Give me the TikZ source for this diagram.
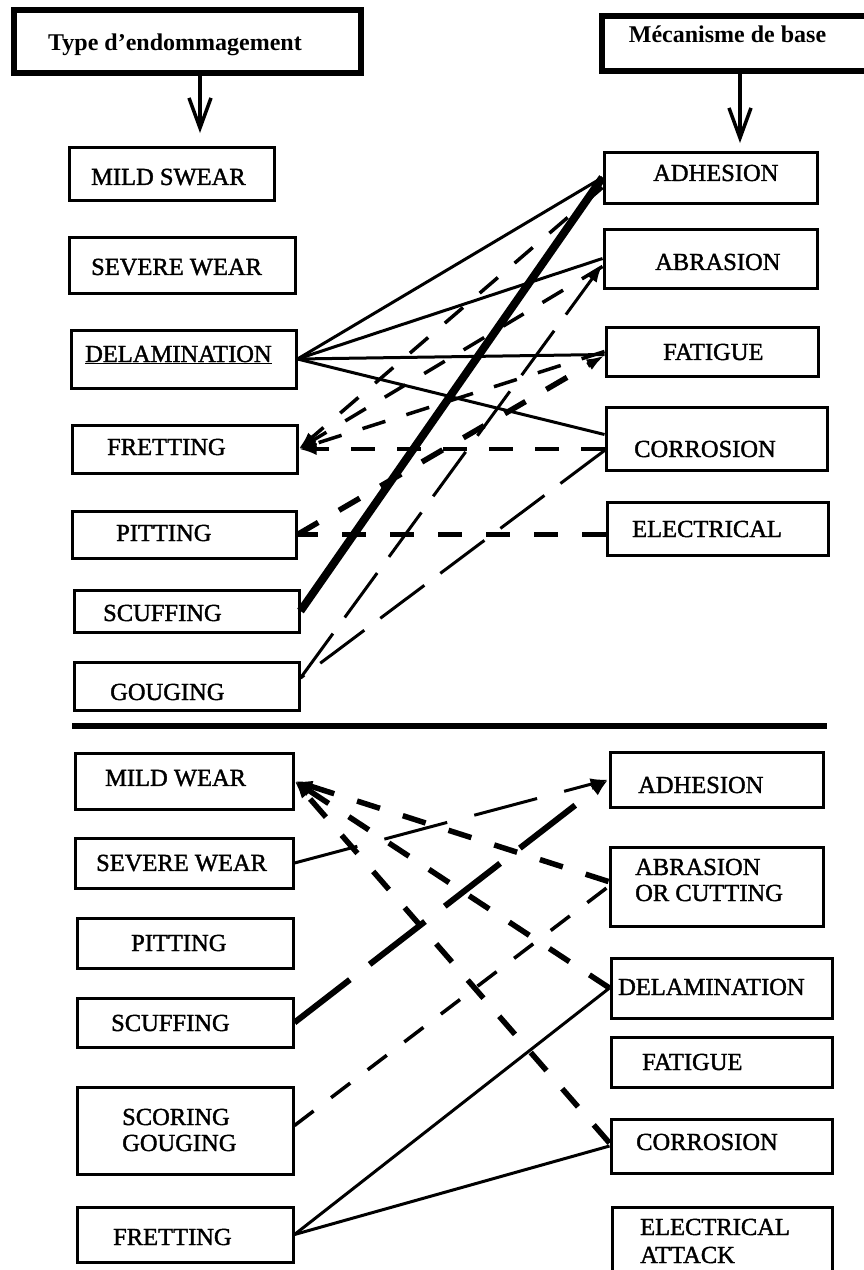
\documentclass[tikz,border=0pt]{standalone}
\usepackage{fontspec}
\setmainfont{Liberation Serif}
\newfontfamily\boxfont{Liberation Serif}[FakeBold=1.5]
\usetikzlibrary{arrows.meta}
\usetikzlibrary{calc}

\tikzset{
  box/.style n args={2}{draw,rectangle,line width=3pt,inner sep=0pt,
              minimum width=#1pt,minimum height=#2pt},
  head/.style n args={2}{draw,rectangle,line width=5.5pt,inner sep=0pt,
              minimum width=#1pt,minimum height=#2pt}
}

\begin{document}
\begin{tikzpicture}[
      x=1pt, y=-1pt,
      >={Latex[length=18pt,width=12pt]},
      txt/.style={font=\boxfont\fontsize{24.5}{26}\selectfont,inner sep=0pt,
                  align=left,anchor=west},
      htxt/.style={font=\fontsize{24}{26}\selectfont\bfseries,inner sep=0pt,
                  anchor=base},
      down/.style={line width=3.5pt,-{Straight Barb[length=30pt,width=22pt]}},
      link/.style={line width=3pt},
      heavylink/.style={line width=8pt},
      dlink/.style={line width=3.5pt,dash pattern=on 24pt off 22pt},
      hdlink/.style={line width=5.5pt,dash pattern=on 24pt off 24pt},
      ldlink/.style={line width=3pt,dash pattern=on 55pt off 20pt},
      hldlink/.style={line width=6pt,dash pattern=on 70pt off 25pt}
    ]
    \useasboundingbox (0,0) rectangle (864,1270);

    % Headers
    \node[head={347}{63}] (typeH) at (187.5,41.5) {};
    \node[htxt] (typeH-t) at (175,50) {Type d'endommagement};
    \node[head={265}{55}] (mecH) at (734.5,43.5) {};
    \node[htxt] (mecH-t) at (727.5,42) {Mécanisme de base};
    \coordinate (typeA) at (200,133);
    \coordinate (mecA) at (740,143);
    \draw[down] (typeH.south -| typeA) -- (typeA);
    \draw[down] (mecH.south -| mecA) -- (mecA);

    % Upper part: damage types
    \node[box={205}{53}] (mildT) at (171.5,173.5) {};
    \node[txt] (mildT-t) at (91,177) {MILD SWEAR};
    \node[box={226}{56}] (severeT) at (182,265) {};
    \node[txt] (severeT-t) at (91,267) {SEVERE WEAR};
    \node[box={225}{58}] (delamT) at (183.5,359) {};
    \node[txt,anchor=base west] (delamT-t) at (85,362) {\underline{DELAMINATION}};
    \node[box={225}{48}] (frettT) at (184.5,449) {};
    \node[txt] (frettT-t) at (107,447) {FRETTING};
    \node[box={224}{47}] (pittT) at (184,534.5) {};
    \node[txt] (pittT-t) at (116,533) {PITTING};
    \node[box={225}{42}] (scuffT) at (186.5,611) {};
    \node[txt] (scuffT-t) at (103,613) {SCUFFING};
    \node[box={225}{48}] (gougT) at (186.5,686) {};
    \node[txt] (gougT-t) at (110,692) {GOUGING};

    % Upper part: mechanisms
    \node[box={213}{51}] (adhT) at (710.5,177.5) {};
    \node[txt] (adhT-t) at (653,173) {ADHESION};
    \node[box={213}{59}] (abrT) at (710.5,258.5) {};
    \node[txt] (abrT-t) at (655,262) {ABRASION};
    \node[box={212}{49}] (fatT) at (712,351.5) {};
    \node[txt] (fatT-t) at (663,352) {FATIGUE};
    \node[box={221}{63}] (corrT) at (716.5,438.5) {};
    \node[txt] (corrT-t) at (634,449) {CORROSION};
    \node[box={221}{53}] (elecT) at (717.5,528.5) {};
    \node[txt] (elecT-t) at (632,529) {ELECTRICAL};

    % Upper links
    \draw[link] (delamT.east) -- (adhT.west);
    \draw[link] (delamT.east) -- (abrT.west);
    \draw[link] (delamT.east) -- ($(fatT.west)+(0,3)$);
    \draw[link] (delamT.east) -- ($(corrT.west)+(0,-4)$);
    \draw[heavylink] (scuffT.east) -- (adhT.west);
    \draw[dlink,->] ($(adhT.west)+(0,10)$) -- (frettT.east);
    \draw[dlink,->] ($(abrT.west)+(0,8)$) -- (frettT.east);
    \draw[dlink,->] (fatT.west) -- (frettT.east);
    \draw[dlink,->] ($(corrT.west)+(0,10.5)$) -- (frettT.east);
    \draw[hdlink,->] (pittT.east) -- ($(fatT.west)+(0,4)$);
    \draw[hdlink] ($(elecT.west)+(0,6)$) -- (pittT.east);
    \draw[ldlink,->] ($(gougT.east)+(0,-8)$) -- ($(abrT.west)+(0,6)$);
    \draw[ldlink] ($(corrT.west)+(0,12)$) -- ($(gougT.east)+(0,-8)$);

    % Separator
    \draw[line width=5.5pt] (72,726) -- (827,726);

    % Lower part: damage types
    \node[box={218}{56}] (mildB) at (184,781) {};
    \node[txt] (mildB-t) at (105,778) {MILD WEAR};
    \node[box={218}{50}] (severeB) at (184,863) {};
    \node[txt] (severeB-t) at (96,863) {SEVERE WEAR};
    \node[box={216}{50}] (pittB) at (185,943) {};
    \node[txt] (pittB-t) at (131,943) {PITTING};
    \node[box={216}{49}] (scuffB) at (185,1022.5) {};
    \node[txt] (scuffB-t) at (111,1023) {SCUFFING};
    \node[box={216}{87}] (scorB) at (185,1130.5) {};
    \node[txt] (scorB-t) at (122,1130) {SCORING\\GOUGING};
    \node[box={216}{55}] (frettB) at (185,1234.5) {};
    \node[txt] (frettB-t) at (113,1237) {FRETTING};

    % Lower part: mechanisms
    \node[box={213}{55}] (adhB) at (716.5,779.5) {};
    \node[txt] (adhB-t) at (638,785) {ADHESION};
    \node[box={213}{79}] (abrB) at (716.5,886.5) {};
    \node[txt] (abrB-t) at (635,880) {ABRASION\\OR CUTTING};
    \node[box={221}{60}] (delamB) at (721.5,988) {};
    \node[txt] (delamB-t) at (618,987) {DELAMINATION};
    \node[box={221}{50}] (fatB) at (721.5,1062) {};
    \node[txt] (fatB-t) at (642,1062) {FATIGUE};
    \node[box={221}{54}] (corrB) at (721.5,1146) {};
    \node[txt] (corrB-t) at (636,1142) {CORROSION};
    \node[box={220}{69}] (elecB) at (722,1241.5) {};
    \node[txt,font=\boxfont\fontsize{24.5}{28}\selectfont] (elecB-t) at (640,1241) {ELECTRICAL\\ATTACK};

    % Lower links
    \draw[hdlink,->] ($(abrB.west)+(0,-5)$) -- (mildB.east);
    \draw[hdlink,->] (delamB.west) -- (mildB.east);
    \draw[hdlink,->] ($(corrB.west)+(0,-3)$) -- (mildB.east);
    \draw[ldlink,dash pattern=on 65pt off 28pt,->] (severeB.east) -- (adhB.west);
    \draw[hldlink,->] (scuffB.east) -- (adhB.west);
    \draw[dlink] ($(scorB.east)+(0,-5)$) -- (abrB.west);
    \draw[link] (frettB.east) -- (delamB.west);
    \draw[link] (frettB.east) -- (corrB.west);

  \end{tikzpicture}
\end{document}
